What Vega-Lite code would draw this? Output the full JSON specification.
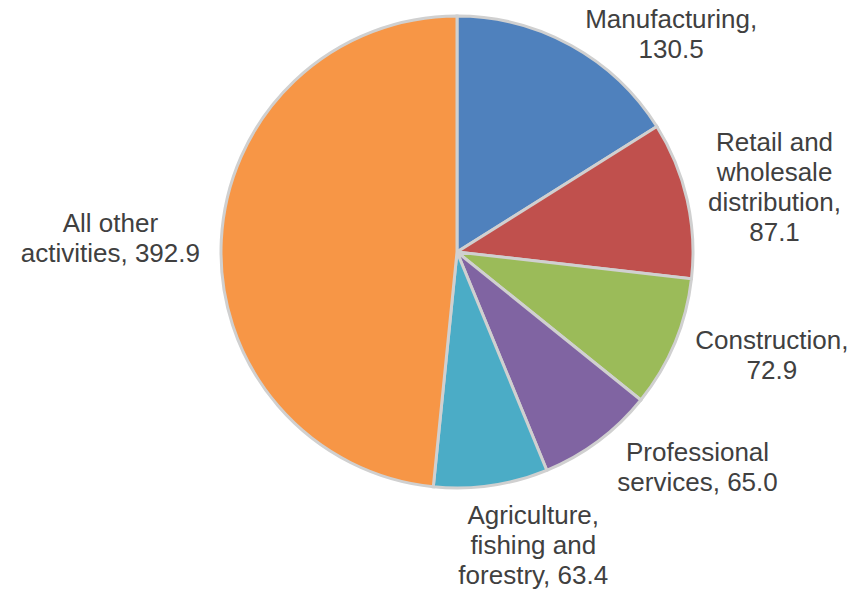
{
  "$schema": "https://vega.github.io/schema/vega-lite/v6.json",
  "width": 798,
  "height": 504,
  "autosize": {"type": "none"},
  "padding": {"left": 58, "top": 0, "right": 0, "bottom": 92},
  "background": "white",
  "view": {"stroke": null},
  "data": {
    "values": [
      {"rank": 1, "category": "Manufacturing", "value": 130.5, "label": ["Manufacturing,", "130.5"]},
      {"rank": 2, "category": "Retail and wholesale distribution", "value": 87.1, "label": ["Retail and", "wholesale", "distribution,", "87.1"]},
      {"rank": 3, "category": "Construction", "value": 72.9, "label": ["Construction,", "72.9"]},
      {"rank": 4, "category": "Professional services", "value": 65.0, "label": ["Professional", "services, 65.0"]},
      {"rank": 5, "category": "Agriculture, fishing and forestry", "value": 63.4, "label": ["Agriculture,", "fishing and", "forestry, 63.4"]},
      {"rank": 6, "category": "All other activities", "value": 392.9, "label": ["All other", "activities, 392.9"]}
    ]
  },
  "encoding": {
    "theta": {"field": "value", "type": "quantitative", "stack": true, "scale": {"nice": false}},
    "order": {"field": "rank", "type": "quantitative", "sort": "ascending"}
  },
  "layer": [
    {
      "mark": {"type": "arc", "outerRadius": 236, "stroke": "#d0d0d0", "strokeWidth": 3},
      "encoding": {
        "color": {
          "field": "category",
          "type": "nominal",
          "scale": {
            "domain": ["Manufacturing", "Retail and wholesale distribution", "Construction", "Professional services", "Agriculture, fishing and forestry", "All other activities"],
            "range": ["#4F81BD", "#C0504D", "#9BBB59", "#8064A2", "#4BACC6", "#F79646"]
          },
          "legend": null
        }
      }
    },
    {
      "mark": {"type": "text", "radius": 300, "dx": 69, "dy": 31, "font": "Liberation Sans", "fontSize": 26, "lineHeight": 30, "color": "#404040", "align": "center", "baseline": "middle"},
      "encoding": {"text": {"condition": {"test": "datum.rank === 1", "field": "label"}, "value": ""}}
    },
    {
      "mark": {"type": "text", "radius": 300, "dx": 25, "dy": -42, "font": "Liberation Sans", "fontSize": 26, "lineHeight": 30, "color": "#404040", "align": "center", "baseline": "middle"},
      "encoding": {"text": {"condition": {"test": "datum.rank === 2", "field": "label"}, "value": ""}}
    },
    {
      "mark": {"type": "text", "radius": 300, "dx": 38, "dy": -27, "font": "Liberation Sans", "fontSize": 26, "lineHeight": 30, "color": "#404040", "align": "center", "baseline": "middle"},
      "encoding": {"text": {"condition": {"test": "datum.rank === 3", "field": "label"}, "value": ""}}
    },
    {
      "mark": {"type": "text", "radius": 300, "dx": 61, "dy": -39, "font": "Liberation Sans", "fontSize": 26, "lineHeight": 30, "color": "#404040", "align": "center", "baseline": "middle"},
      "encoding": {"text": {"condition": {"test": "datum.rank === 4", "field": "label"}, "value": ""}}
    },
    {
      "mark": {"type": "text", "radius": 300, "dx": 33, "dy": -33, "font": "Liberation Sans", "fontSize": 26, "lineHeight": 30, "color": "#404040", "align": "center", "baseline": "middle"},
      "encoding": {"text": {"condition": {"test": "datum.rank === 5", "field": "label"}, "value": ""}}
    },
    {
      "mark": {"type": "text", "radius": 300, "dx": -47, "dy": -13, "font": "Liberation Sans", "fontSize": 26, "lineHeight": 30, "color": "#404040", "align": "center", "baseline": "middle"},
      "encoding": {"text": {"condition": {"test": "datum.rank === 6", "field": "label"}, "value": ""}}
    }
  ]
}
